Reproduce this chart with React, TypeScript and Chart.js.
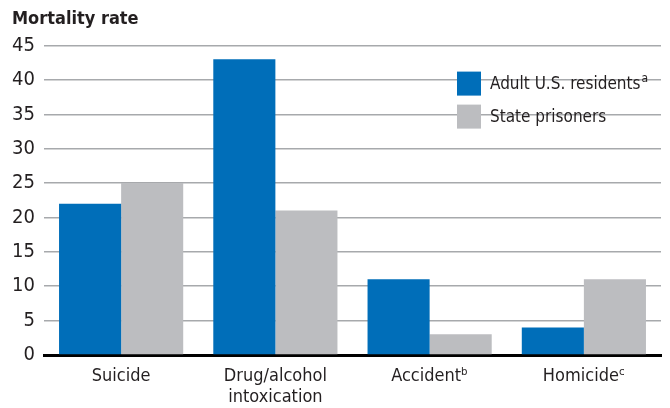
import React, { useEffect, useRef } from "react";
import { Chart, registerables } from "chart.js";

Chart.register(...registerables);

const categories: (string | string[])[] = ["Suicide", ["Drug/alcohol", "intoxication"], "Accidentᵇ", "Homicideᶜ"];
const adultResidents = [22, 43, 11, 4];
const statePrisoners = [25, 21, 3, 11];
const seriesNames = ["Adult U.S. residents", "State prisoners"];
const seriesNotes = ["a", ""];
const seriesColors = ["#006EB9", "#BCBDC0"];
const yTicks = { min: 0, max: 45, step: 5 };
const titleText = "Mortality rate";

const FONT = "'Liberation Sans Narrow', 'DejaVu Sans Condensed', 'Arial Narrow', sans-serif";
const TEXT = "#231F20";

const legendPlugin = {
  id: "customLegend",
  afterDraw(chart: any) {
    const ctx = chart.ctx;
    const area = chart.chartArea;
    const x0 = area.left + 413;
    const y0 = area.top + 26;
    ctx.save();
    ctx.textBaseline = "middle";
    ctx.textAlign = "left";
    seriesNames.forEach((name, i) => {
      const y = y0 + i * 33;
      ctx.fillStyle = seriesColors[i];
      ctx.fillRect(x0, y, 24, 24);
      ctx.fillStyle = TEXT;
      ctx.font = `17px ${FONT}`;
      ctx.fillText(name, x0 + 33, y + 13);
      if (seriesNotes[i]) {
        const w = ctx.measureText(name).width;
        ctx.font = `12px ${FONT}`;
        ctx.fillText(seriesNotes[i], x0 + 34 + w, y + 7);
      }
    });
    ctx.restore();
  },
};

export default function App() {
  const ref = useRef<HTMLCanvasElement>(null);
  useEffect(() => {
    if (!ref.current) return;
    const chart = new Chart(ref.current, {
      type: "bar",
      data: {
        labels: categories,
        datasets: [
          { label: seriesNames[0], data: adultResidents, backgroundColor: seriesColors[0], categoryPercentage: 0.805, barPercentage: 1 },
          { label: seriesNames[1], data: statePrisoners, backgroundColor: seriesColors[1], categoryPercentage: 0.805, barPercentage: 1 },
        ],
      },
      options: {
        animation: false,
        responsive: true,
        maintainAspectRatio: false,
        layout: { padding: { left: 12, right: 9, top: 7, bottom: 3 } },
        plugins: {
          legend: { display: false },
          tooltip: { enabled: false },
          title: {
            display: true,
            text: titleText,
            align: "start",
            color: TEXT,
            font: { family: FONT, size: 18, weight: "bold" },
            padding: { top: 2, bottom: 15 },
          },
        },
        scales: {
          x: {
            grid: { display: false },
            border: { display: true, color: "#000", width: 3 },
            ticks: { color: TEXT, font: { family: FONT, size: 18, lineHeight: 1.15 }, padding: 3, maxRotation: 0, autoSkip: false },
            afterFit: (s: any) => {
              s.height = 50;
              s.paddingLeft = 0;
              s.paddingRight = 0;
            },
          },
          y: {
            min: yTicks.min,
            max: yTicks.max,
            border: { display: false },
            grid: {
              color: (c: any) => (c.tick && c.tick.value === 0 ? "rgba(0,0,0,0)" : "#A7A9AC"),
              lineWidth: 1.5,
              drawTicks: false,
            },
            ticks: { stepSize: yTicks.step, color: TEXT, font: { family: FONT, size: 20 }, padding: 9 },
            afterFit: (s: any) => {
              s.width = 32;
            },
          },
        },
      },
      plugins: [legendPlugin],
    });
    return () => chart.destroy();
  }, []);
  return (
    <div style={{ position: "absolute", left: 0, top: 0, width: 670, height: 408, background: "#fff" }}>
      <canvas ref={ref} />
    </div>
  );
}
